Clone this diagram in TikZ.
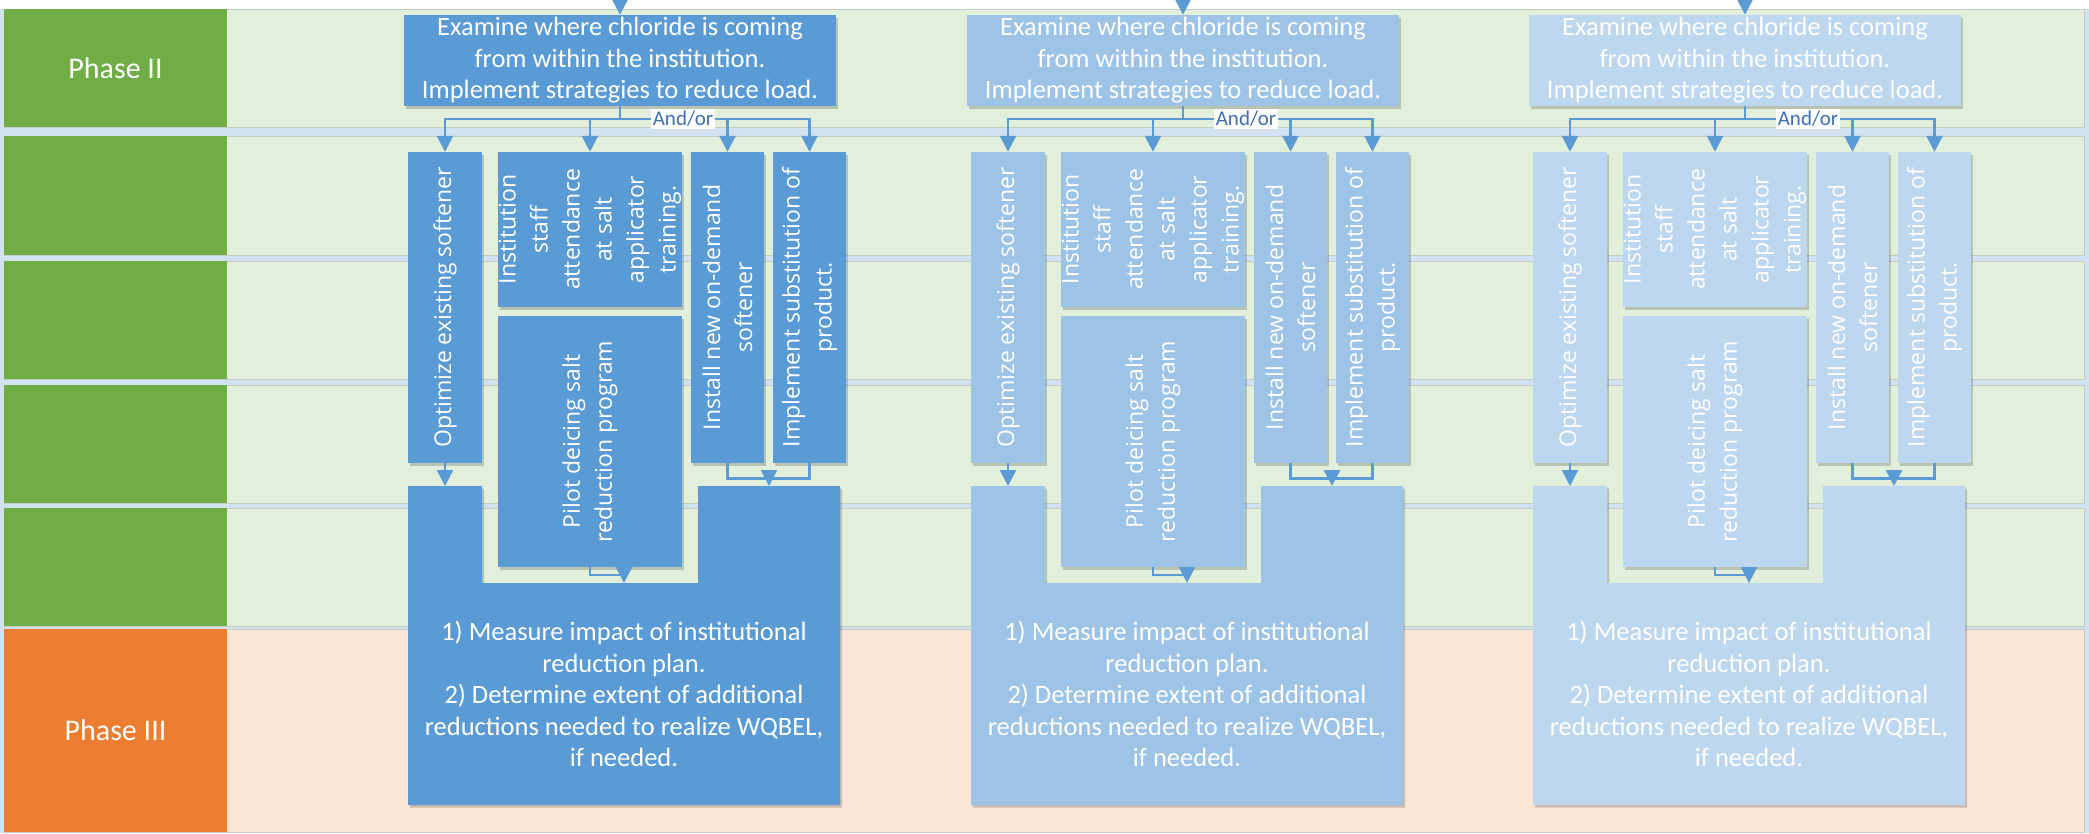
\documentclass[tikz,border=0pt]{standalone}
\usepackage{fontspec}
\setmainfont{Carlito}
\newfontfamily\osans{Open Sans}
\usetikzlibrary{arrows.meta,shadows}
\definecolor{bgblue}{HTML}{D3E2F1}
\definecolor{rowgreen}{HTML}{E2EFDA}
\definecolor{roworange}{HTML}{FBE5D6}
\definecolor{phgreen}{HTML}{70AD47}
\definecolor{phorange}{HTML}{ED7D31}
\definecolor{cA}{HTML}{5B9BD5}
\definecolor{cB}{HTML}{9DC3E6}
\definecolor{cC}{HTML}{BDD7EE}
\definecolor{connc}{HTML}{5B9BD5}
\definecolor{andorc}{HTML}{3F6FB5}
\definecolor{rowline}{HTML}{C5CCC2}
\tikzset{
  shd/.style={drop shadow={shadow xshift=2pt,shadow yshift=-2.5pt,opacity=0.18,fill=black}},
  bluebox/.style={fill=#1,draw=none,inner sep=0pt,shd},
  vtext/.style={text=white,align=center,inner sep=0pt,font=\osans\fontsize{23}{32}\selectfont},
  htext/.style={text=white,align=center,inner sep=0pt,font=\fontsize{26.5}{31.5}\selectfont},
  phase/.style={text=white,font=\fontsize{30}{36}\selectfont},
  cline/.style={draw=connc,line width=2.6pt},
  carrow/.style={cline,-{Triangle[width=16pt,length=16pt]}},
  rowbg/.style={fill=#1,draw=rowline,line width=1pt},
  andor/.style={fill=white,text=andorc,inner sep=2pt,font=\fontsize{21}{25}\selectfont}
}
\begin{document}
\begin{tikzpicture}[x=1pt,y=-1pt]
\useasboundingbox (0,0) rectangle (2089,833);
\fill[bgblue] (0,0) rectangle (2089,833);
\fill[white] (0,0) rectangle (2089,9);
% rows
\draw[rowbg=rowgreen] (4,9) rectangle (2084,127);
\draw[rowbg=rowgreen] (4,136) rectangle (2084,255);
\draw[rowbg=rowgreen] (4,261) rectangle (2084,379);
\draw[rowbg=rowgreen] (4,385) rectangle (2084,503);
\draw[rowbg=rowgreen] (4,508) rectangle (2084,626);
\draw[rowbg=roworange] (4,629) rectangle (2084,832);
% phase column
\node[fill=phgreen,minimum width=223pt,minimum height=118pt,inner sep=0pt] (ph2) at (115.5,68) {};
\node[phase] at (ph2) {Phase II};
\node[fill=phgreen,minimum width=223pt,minimum height=119pt,inner sep=0pt] (g2) at (115.5,195.5) {};
\node[fill=phgreen,minimum width=223pt,minimum height=118pt,inner sep=0pt] (g3) at (115.5,320) {};
\node[fill=phgreen,minimum width=223pt,minimum height=118pt,inner sep=0pt] (g4) at (115.5,444) {};
\node[fill=phgreen,minimum width=223pt,minimum height=118pt,inner sep=0pt] (g5) at (115.5,567) {};
\node[fill=phorange,minimum width=223pt,minimum height=203pt,inner sep=0pt] (ph3) at (115.5,730.5) {};
\node[phase] at (ph3) {Phase III};
% columns
\foreach \off/\col/\i in {0/cA/1,563/cB/2,1125/cC/3}{
\begin{scope}[xshift=\off pt]
  \coordinate (in\i) at (620,0);
  \node[bluebox=\col,minimum width=432pt,minimum height=91pt,htext] (top\i) at (620,60.5)
    {Examine where chloride is coming\\from within the institution.\\Implement strategies to reduce load.};
  \node[bluebox=\col,minimum width=74pt,minimum height=311pt] (opt\i) at (445,307.5) {};
  \node[vtext,rotate=90] at (opt\i) {Optimize existing softener};
  \node[bluebox=\col,minimum width=184pt,minimum height=155pt] (ins\i) at (590,229.5) {};
  \node[vtext,rotate=90] at (ins\i) {Institution\\staff\\attendance\\at salt\\applicator\\training.};
  \node[bluebox=\col,minimum width=184pt,minimum height=251pt] (pil\i) at (590,441.5) {};
  \node[vtext,rotate=90] at (pil\i) {Pilot deicing salt\\reduction program};
  \node[bluebox=\col,minimum width=73pt,minimum height=311pt] (sof\i) at (727.5,307.5) {};
  \node[vtext,rotate=90] at (sof\i) {Install new on-demand\\softener};
  \node[bluebox=\col,minimum width=73pt,minimum height=311pt] (sub\i) at (809.5,307.5) {};
  \node[vtext,rotate=90] at (sub\i) {Implement substitution of\\product.};
  \fill[\col,shd] (408,486) -- (482,486) -- (482,583) -- (698,583) -- (698,486) -- (840,486) -- (840,805) -- (408,805) -- cycle;
  \node[htext] (mea\i) at (624,694)
    {1) Measure impact of institutional\\reduction plan.\\2) Determine extent of additional\\reductions needed to realize WQBEL,\\if needed.};
  \coordinate (mL\i) at (445,486);
  \coordinate (mR\i) at (769,486);
  \coordinate (mC\i) at (624,583);
  \coordinate (j\i) at (620,119);
  \coordinate (mg\i) at (769,470);
  \coordinate (pa\i) at (624,567);
  \coordinate (pb\i) at (624,575);
  % connectors
  \draw[carrow] (in\i) -- (top\i.north);
  \draw[cline] (top\i.south) -- (j\i);
  \draw[carrow] (j\i) -| (opt\i.north);
  \draw[carrow] (j\i) -| (ins\i.north);
  \draw[carrow] (j\i) -| (sof\i.north);
  \draw[carrow] (j\i) -| (sub\i.north);
  \node[andor] at (683,119) {And/or};
  \draw[carrow] (opt\i.south) -- (mL\i);
  \draw[cline] (sof\i.south) -- ++(0,15) -| (sub\i.south);
  \draw[carrow] (mg\i) -- (mR\i);
  \draw[cline] (pil\i.south) |- (pb\i);
  \draw[carrow] (pa\i) -- (mC\i);
\end{scope}
}
\end{tikzpicture}
\end{document}
